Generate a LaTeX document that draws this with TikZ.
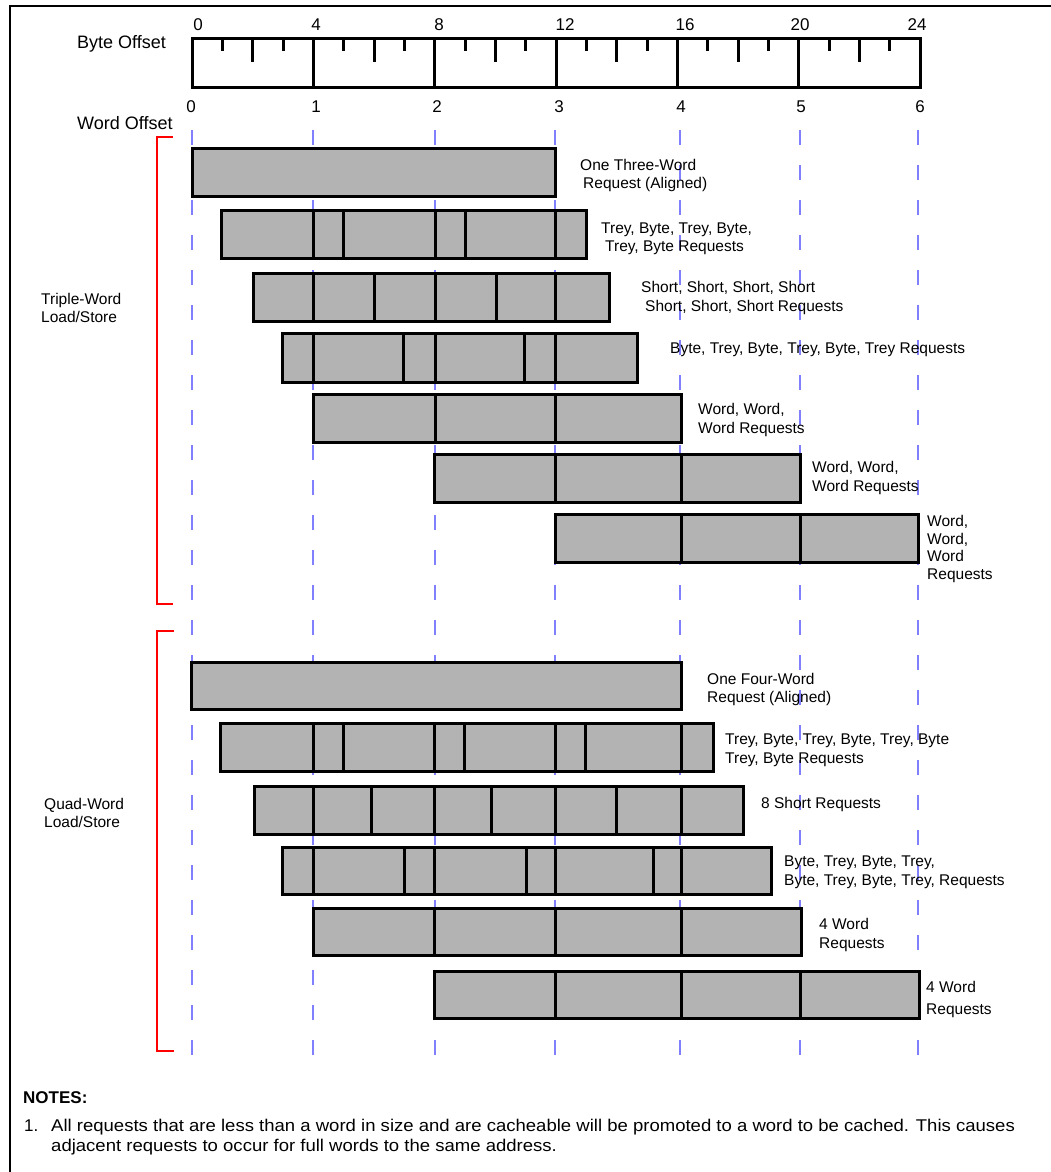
\documentclass[tikz,border=0pt]{standalone}
\usepackage{fontspec}
\setmainfont{Liberation Sans}
\definecolor{boxgray}{HTML}{B3B3B3}
\definecolor{guideblue}{HTML}{8080FF}
\newcommand\reqrow[5]{%
  \filldraw[cell] (#3,#1) rectangle (#4,#2);
  \foreach \d in {#5} \draw[divider] (\d,#1) -- (\d,#2);
}
\begin{document}
\begin{tikzpicture}[x=1pt,y=-1pt,
  cell/.style={fill=boxgray,draw=black,line width=3pt},
  divider/.style={draw=black,line width=3pt},
  guide/.style={draw=guideblue,line width=2pt,dash pattern=on 15pt off 20pt},
  brace/.style={draw=red,line width=2.5pt},
  lbl/.style={inner sep=0pt,anchor=base west,align=left,font=\fontsize{15.5}{18}\selectfont},
  num/.style={inner sep=0pt,font=\fontsize{17}{20}\selectfont},
  head/.style={inner sep=0pt,anchor=base west,font=\fontsize{18}{21}\selectfont},
  note/.style={inner sep=0pt,anchor=base west,font=\fontsize{17}{20}\selectfont},
 ]
\useasboundingbox (0,0) rectangle (1051,1172);
% frame
\draw[line width=2pt] (10,1172) -- (10,6) -- (1051,6);
% guides
\foreach \x in {192,313,435,555,680,800,918}
  \draw[guide] (\x,130) -- (\x,1066);
% ruler
\draw[line width=3pt] (192,39) rectangle (920,87);
\foreach \i in {1,...,5} \draw[divider] ({192+\i*121.333},39) -- ++(0,48);
\foreach \b in {1,3,...,23} \draw[line width=3pt] ({192+\b*30.333},39) -- ++(0,12);
\foreach \b in {2,6,...,22} \draw[line width=3pt] ({192+\b*30.333},39) -- ++(0,23);
% numbers
\foreach \n/\x in {0/198,4/316,8/439,12/565,16/685,20/800,24/917}
  \node[num] (b\n) at (\x,25) {\n};
\foreach \n/\x in {0/191,1/316,2/437,3/559,4/681,5/801,6/920}
  \node[num] (w\n) at (\x,107) {\n};
\node[head] (byteoff) at (77,48.5) {Byte Offset};
\node[head] (wordoff) at (77,129.5) {Word Offset};
% brackets
\draw[brace] (173,137) -- (157,137) -- (157,604) -- (173,604);
\draw[brace] (174,631) -- (157,631) -- (157,1051) -- (174,1051);
\node[lbl] (triple) at (41,322.5) {Triple-Word\\Load/Store};
\node[lbl] (quad) at (44,827.5) {Quad-Word\\Load/Store};
% triple rows
\filldraw[cell] (192,148) rectangle (555,196);
\reqrow{210}{258}{221}{586}{313,343,435,465,555}
\reqrow{273}{321}{253}{609}{313,374,435,496,555}
\reqrow{333}{382}{282}{637}{313,403,435,524,555}
\reqrow{394}{442}{313}{681}{435,555}
\reqrow{454}{502}{434}{800}{555,681}
\reqrow{514}{562}{555}{918}{681,800}
% quad rows
\filldraw[cell] (191,662) rectangle (681,709);
\reqrow{723}{771}{220}{713}{313,343,434,464,555,585,681}
\reqrow{786}{834}{254}{743}{313,371,434,491,555,616,681}
\reqrow{847}{894}{282}{771}{313,404,434,526,555,653,681}
\reqrow{908}{955}{313}{801}{434,555,681}
\reqrow{971}{1018}{434}{919}{555,681,800}
% labels triple (base = last line's baseline)
\node[lbl] (t1) at (580,188.5) {One Three-Word\\\hspace*{3pt}Request (Aligned)};
\node[lbl] (t2) at (601,251.5) {Trey, Byte, Trey, Byte,\\\hspace*{4pt}Trey, Byte Requests};
\node[lbl,font=\fontsize{15.5}{19}\selectfont] (t3) at (641,311.5) {Short, Short, Short, Short\\\hspace*{4pt}Short, Short, Short Requests};
\node[lbl] (t4) at (670,353.5) {Byte, Trey, Byte, Trey, Byte, Trey Requests};
\node[lbl,font=\fontsize{15.5}{19}\selectfont] (t5) at (698,433.5) {Word, Word,\\Word Requests};
\node[lbl,font=\fontsize{15.5}{19}\selectfont] (t6) at (812,491.5) {Word, Word,\\Word Requests};
\node[lbl,font=\fontsize{15.5}{17.7}\selectfont] (t7) at (927,579.5) {Word,\\Word,\\Word\\Requests};
% labels quad
\node[lbl] (q1) at (707,702.5) {One Four-Word\\Request (Aligned)};
\node[lbl,font=\fontsize{15.5}{19}\selectfont] (q2) at (725,763.5) {Trey, Byte, Trey, Byte, Trey, Byte\\Trey, Byte Requests};
\node[lbl] (q3) at (761,808.5) {8 Short Requests};
\node[lbl,font=\fontsize{15.5}{19}\selectfont] (q4) at (784,885.5) {Byte, Trey, Byte, Trey,\\Byte, Trey, Byte, Trey, Requests};
\node[lbl,font=\fontsize{15.5}{19}\selectfont] (q5) at (819,948.5) {4 Word\\Requests};
\node[lbl,font=\fontsize{15.5}{22}\selectfont] (q6) at (926,1014.5) {4 Word\\Requests};
% notes
\node[inner sep=0pt,anchor=base west,font=\fontsize{17}{20}\selectfont\bfseries] (notes) at (23,1103) {NOTES:};
\node[note] (n1) at (24,1131) {1.};
\node[note] (n1a) at (51,1131) {\scalebox{1.09}[1]{All requests that are less than a word in size and are cacheable will be promoted to a word to be cached. This causes}};
\node[note] (n1b) at (51,1151) {\scalebox{1.09}[1]{adjacent requests to occur for full words to the same address.}};
\end{tikzpicture}
\end{document}
